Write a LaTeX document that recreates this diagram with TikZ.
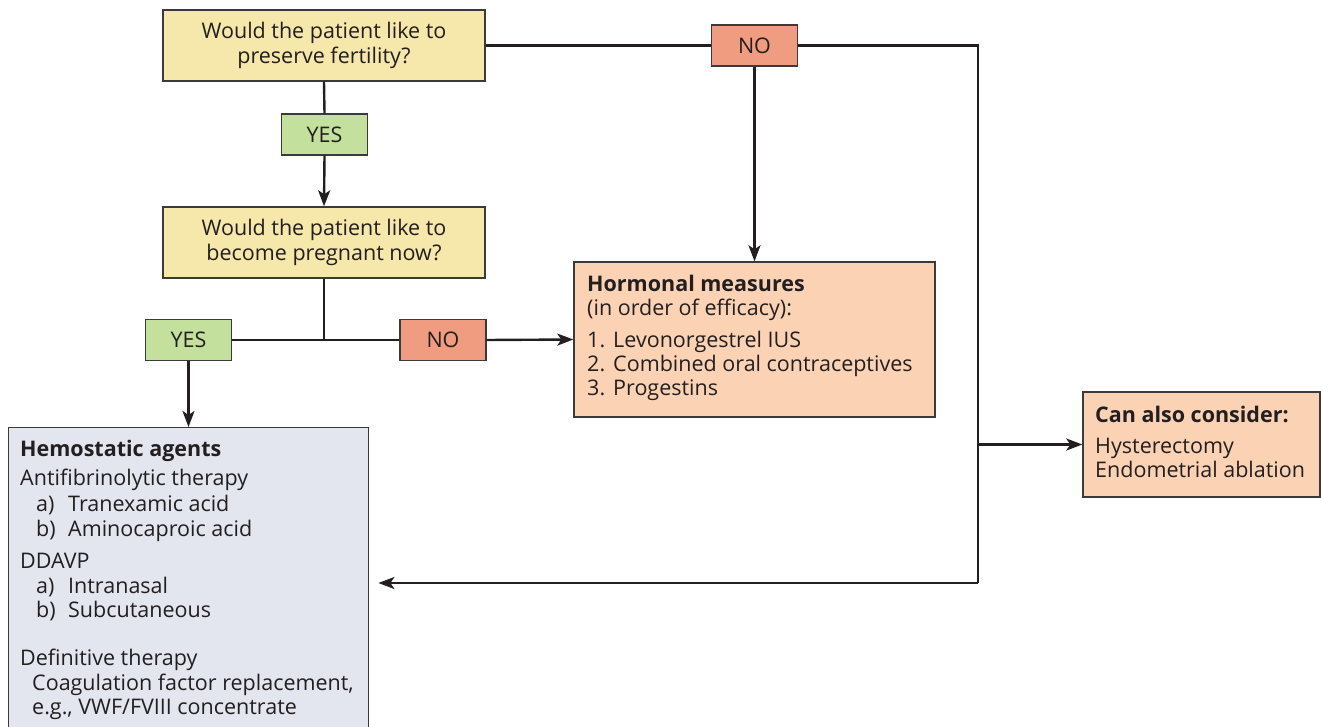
\documentclass[tikz,border=0pt]{standalone}
\usepackage{fontspec}
\setmainfont{Open Sans}
\usetikzlibrary{arrows.meta}
\definecolor{qyellow}{HTML}{F6E7AA}
\definecolor{qgreen}{HTML}{C3E09D}
\definecolor{qred}{HTML}{F09C80}
\definecolor{qpeach}{HTML}{FBD3B4}
\definecolor{qgray}{HTML}{E3E5EF}
\definecolor{qline}{HTML}{231F20}
\definecolor{qborder}{HTML}{3A3A3A}
\tikzset{
  every node/.style={font=\fontsize{21.5}{25}\selectfont, text=qline},
  box/.style={draw=qborder, line width=1.4pt, rectangle, inner sep=0pt},
  qbox/.style={box, fill=qyellow, minimum width=322pt, minimum height=71pt, align=center},
  yesbox/.style={box, fill=qgreen, minimum width=86pt, minimum height=41pt},
  nobox/.style={box, fill=qred, minimum width=86pt, minimum height=41pt},
  ln/.style={inner sep=0pt, anchor=base west},
  conn/.style={draw=qline, line width=2.4pt},
  arr/.style={conn, -{Stealth[length=16pt,width=12pt,inset=4pt]}},
}
\newcommand{\itm}[1]{\makebox[26pt][l]{#1}}
\newcommand{\sub}[1]{\hspace*{16pt}\makebox[32pt][l]{#1}}
\begin{document}
\begin{tikzpicture}[x=1pt,y=-1pt]
\useasboundingbox (0,0) rectangle (1321,727);
\clip (0,0) rectangle (1321,727);
% nodes
\node[qbox] (q1) at (324,45.5) {Would the patient like to\\preserve fertility?};
\node[yesbox] (yes1) at (324.5,134.5) {YES};
\node[qbox] (q2) at (324,242.5) {Would the patient like to\\become pregnant now?};
\node[yesbox] (yes2) at (188.5,340) {YES};
\node[nobox] (no2) at (443,340) {NO};
\node[nobox] (no1) at (754.5,45.5) {NO};
\node[box, fill=qpeach, minimum width=361pt, minimum height=155pt] (horm) at (754.5,339.5) {};
\node[box, fill=qpeach, minimum width=237pt, minimum height=105pt] (also) at (1201.5,444.5) {};
\node[box, fill=qgray, minimum width=360pt, minimum height=330pt, anchor=north west] (hemo) at (8,427) {};
\coordinate (j2) at (324,340);
\coordinate (rt) at (978,45.5);
\coordinate (rm) at (978,444.5);
\coordinate (rb) at (978,583);
% hormonal texts
\node[ln] (ht1) at (587,291) {\textbf{Hormonal measures}};
\node[ln] (ht2) at (587,315) {(in order of efficacy):};
\node[ln] (ht3) at (587,347) {\itm{1.}Levonorgestrel IUS};
\node[ln] (ht4) at (587,371) {\itm{2.}Combined oral contraceptives};
\node[ln] (ht5) at (587,395) {\itm{3.}Progestins};
% also texts
\node[ln] (at1) at (1095,422) {\textbf{Can also consider:}};
\node[ln] (at2) at (1095,453) {Hysterectomy};
\node[ln] (at3) at (1095,477) {Endometrial ablation};
% hemostatic texts
\node[ln] (hm1) at (20,456) {\textbf{Hemostatic agents}};
\node[ln] (hm2) at (20,485) {Antifibrinolytic therapy};
\node[ln] (hm3) at (20,511) {\sub{a)}Tranexamic acid};
\node[ln] (hm4) at (20,536) {\sub{b)}Aminocaproic acid};
\node[ln] (hm5) at (20,568) {DDAVP};
\node[ln] (hm6) at (20,593) {\sub{a)}Intranasal};
\node[ln] (hm7) at (20,617) {\sub{b)}Subcutaneous};
\node[ln] (hm8) at (20,665) {Definitive therapy};
\node[ln] (hm9) at (20,690) {\hspace*{12pt}Coagulation factor replacement,};
\node[ln] (hm10) at (20,714) {\hspace*{12pt}e.g., VWF/FVIII concentrate};
% connectors
\draw[conn] (q1.south) -- (yes1.north);
\draw[arr] (yes1.south) -- (q2.north);
\draw[conn] (q2.south) -- (j2);
\draw[conn] (yes2.east) -- (no2.west);
\draw[arr] (no2.east) -- (horm.west);
\draw[arr] (yes2.south) -- (hemo.north -| yes2.south);
\draw[conn] (q1.east) -- (no1.west);
\draw[arr] (no1.south) -- (horm.north);
\draw[conn] (no1.east) -- (rt) -- (rb);
\draw[arr] (rm) -- (also.west);
\draw[arr] (rb) -- ([xshift=9pt]hemo.east |- rb);
\end{tikzpicture}
\end{document}
